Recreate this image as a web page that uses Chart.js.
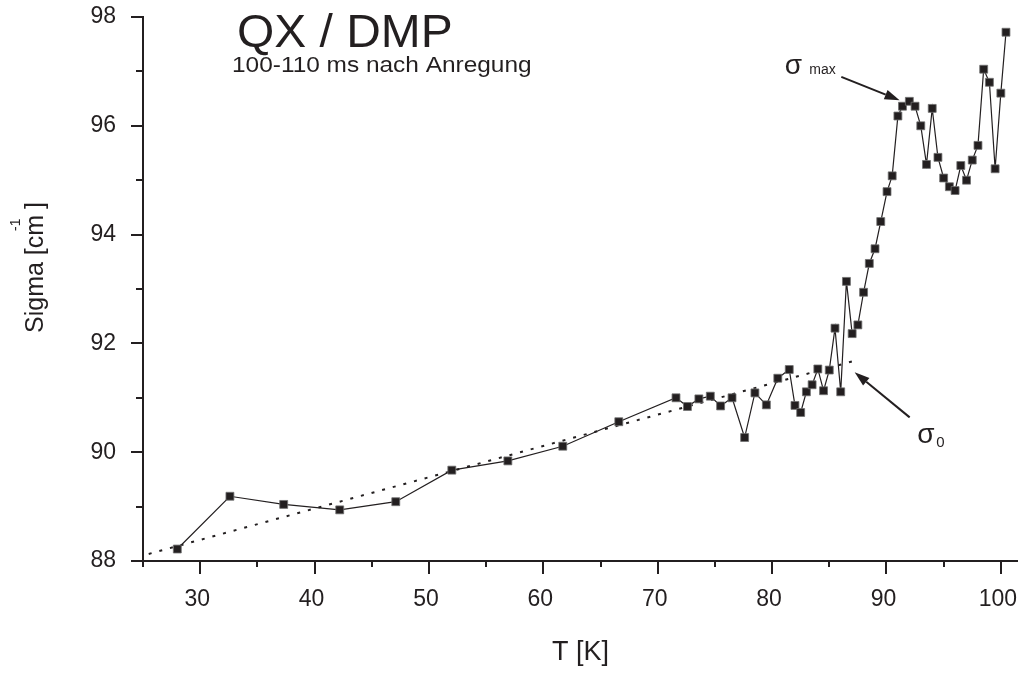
<!DOCTYPE html>
<html>
<head>
<meta charset="utf-8">
<script src="https://cdn.jsdelivr.net/npm/chart.js@4.4.1/dist/chart.umd.min.js"></script>
<style>
html,body{margin:0;padding:0;background:#ffffff;}
#wrap{width:1018px;height:673px;}
canvas{display:block;}
</style>
</head>
<body>
<div id="wrap"><canvas id="c" width="1018" height="673"></canvas></div>
<script>
// ---- data ----
const temperatureK = [28.0, 32.6, 37.3, 42.2, 47.1, 52.0, 56.9, 61.7, 66.6,
  71.6, 72.6, 73.6, 74.6, 75.5, 76.5, 77.6, 78.5, 79.5, 80.5, 81.5,
  82.0, 82.5, 83.0, 83.5, 84.0, 84.5, 85.0, 85.5, 86.0, 86.5, 87.0, 87.5,
  88.0, 88.5, 89.0, 89.5, 90.05, 90.5, 91.0, 91.4, 92.0, 92.5, 93.0, 93.5,
  94.0, 94.5, 95.0, 95.5, 96.0, 96.5, 97.0, 97.5, 98.0, 98.5, 99.0, 99.5,
  100.0, 100.45];
const sigmaValues = [88.22, 89.19, 89.04, 88.94, 89.09, 89.67, 89.84, 90.11, 90.56,
  91.0, 90.84, 90.98, 91.03, 90.85, 91.0, 90.27, 91.09, 90.87, 91.36, 91.52,
  90.86, 90.73, 91.11, 91.24, 91.53, 91.13, 91.51, 92.28, 91.11, 93.14, 92.18, 92.34,
  92.94, 93.47, 93.74, 94.24, 94.79, 95.08, 96.18, 96.36, 96.45, 96.36, 96.0, 95.29,
  96.32, 95.42, 95.04, 94.88, 94.81, 95.27, 95.0, 95.37, 95.64, 97.04, 96.8, 95.21,
  96.6, 97.72];
const baselineT = [25.5, 87.2];
const baselineSigma = [88.13, 91.68];
const xTickValues = [25, 30, 35, 40, 45, 50, 55, 60, 65, 70, 75, 80, 85, 90, 95, 100];
const yTickValues = [88, 89, 90, 91, 92, 93, 94, 95, 96, 97, 98];

const FONT = '"Liberation Sans", Arial, Helvetica, sans-serif';
const INK = '#231f20';

const axesPlugin = {
  id: 'axesPlugin',
  afterDraw(chart) {
    const ctx = chart.ctx, xs = chart.scales.x, ys = chart.scales.y, a = chart.chartArea;
    ctx.save();
    ctx.strokeStyle = INK;
    ctx.lineWidth = 2;
    ctx.lineCap = 'butt';
    ctx.beginPath();
    ctx.moveTo(a.left, a.top - 1);
    ctx.lineTo(a.left, a.bottom);
    ctx.moveTo(a.left - 1, a.bottom);
    ctx.lineTo(a.right, a.bottom);
    ctx.stroke();
    ctx.beginPath();
    xs.ticks.forEach(t => {
      const p = Math.round(xs.getPixelForValue(t.value));
      const len = t.value % 10 === 0 ? 13 : 6;
      ctx.moveTo(p, a.bottom);
      ctx.lineTo(p, a.bottom + len);
    });
    ys.ticks.forEach(t => {
      const p = Math.round(ys.getPixelForValue(t.value));
      const len = t.value % 2 === 0 ? 12 : 7;
      ctx.moveTo(a.left - len, p);
      ctx.lineTo(a.left, p);
    });
    ctx.stroke();

    // y axis title (rotated) with superscript
    ctx.fillStyle = INK;
    ctx.translate(43, 333);
    ctx.rotate(-Math.PI / 2);
    ctx.textBaseline = 'alphabetic';
    ctx.textAlign = 'left';
    ctx.font = '25px ' + FONT;
    const main = 'Sigma [cm';
    const w = ctx.measureText(main).width;
    ctx.fillText(main, 0, 0);
    ctx.font = '14px ' + FONT;
    ctx.fillText('-1', w - 16, -23);
    ctx.font = '25px ' + FONT;
    ctx.fillText(']', w + 6, 0);
    ctx.restore();
  }
};

function arrow(ctx, x1, y1, x2, y2) {
  const ang = Math.atan2(y2 - y1, x2 - x1);
  const hl = 15, hw = 5;
  const bx = x2 - hl * Math.cos(ang), by = y2 - hl * Math.sin(ang);
  ctx.beginPath();
  ctx.moveTo(x1, y1);
  ctx.lineTo(bx, by);
  ctx.stroke();
  ctx.beginPath();
  ctx.moveTo(x2, y2);
  ctx.lineTo(bx + hw * Math.sin(ang), by - hw * Math.cos(ang));
  ctx.lineTo(bx - hw * Math.sin(ang), by + hw * Math.cos(ang));
  ctx.closePath();
  ctx.fill();
}

function stretchedText(ctx, text, x, y, sx) {
  ctx.save();
  ctx.translate(x, y);
  ctx.scale(sx, 1);
  ctx.fillText(text, 0, 0);
  ctx.restore();
}

const notesPlugin = {
  id: 'notesPlugin',
  afterDraw(chart) {
    const ctx = chart.ctx, xs = chart.scales.x, ys = chart.scales.y;
    const X = v => xs.getPixelForValue(v), Y = v => ys.getPixelForValue(v);
    ctx.save();
    ctx.fillStyle = INK;
    ctx.strokeStyle = INK;
    ctx.textAlign = 'left';
    ctx.textBaseline = 'alphabetic';
    // titles
    ctx.font = '47px ' + FONT;
    stretchedText(ctx, 'QX / DMP', 237, 47, 1.02);
    ctx.font = '22px ' + FONT;
    stretchedText(ctx, '100-110 ms nach Anregung', 232, 72, 1.11);
    // sigma max
    ctx.font = '28px ' + FONT;
    ctx.fillText('σ', X(81.1), Y(96.95));
    ctx.font = '14px ' + FONT;
    ctx.fillText('max', X(83.25), Y(96.95));
    ctx.lineWidth = 2;
    arrow(ctx, X(86.05), Y(96.9), X(91.15), Y(96.47));
    // sigma 0
    arrow(ctx, X(92.03), Y(90.64), X(87.22), Y(91.47));
    ctx.font = '28px ' + FONT;
    ctx.fillText('σ', X(92.7), Y(90.17));
    ctx.font = '15px ' + FONT;
    ctx.fillText('0', X(94.35), Y(90.09));
    ctx.restore();
  }
};

new Chart(document.getElementById('c'), {
  type: 'line',
  data: {
    datasets: [
      {
        data: temperatureK.map((t, i) => ({ x: t, y: sigmaValues[i] })),
        borderColor: INK,
        borderWidth: 1.2,
        tension: 0,
        pointStyle: 'rect',
        pointRadius: 5.6,
        pointBackgroundColor: INK,
        pointBorderColor: '#707070',
        pointBorderWidth: 0.8
      },
      {
        data: baselineT.map((t, i) => ({ x: t, y: baselineSigma[i] })),
        borderColor: INK,
        borderWidth: 2,
        borderDash: [3, 8],
        pointRadius: 0,
        tension: 0
      }
    ]
  },
  options: {
    responsive: false,
    animation: false,
    devicePixelRatio: 1,
    layout: { autoPadding: false, padding: { top: 17, right: 0, bottom: 0, left: 0 } },
    plugins: { legend: { display: false }, tooltip: { enabled: false }, title: { display: false } },
    scales: {
      x: {
        type: 'linear',
        min: 25,
        max: 101.5,
        grid: { display: false, drawTicks: false },
        border: { display: false },
        afterBuildTicks: s => { s.ticks = xTickValues.map(v => ({ value: v })); },
        afterFit: s => { s.height = 112; s.paddingLeft = 0; s.paddingRight = 0; },
        ticks: {
          autoSkip: false, maxRotation: 0, padding: 25, color: INK, labelOffset: -3,
          font: { family: FONT, size: 23 },
          callback: v => (v % 10 === 0 ? String(v) : '')
        },
        title: {
          display: true, text: 'T [K]', color: INK,
          font: { family: FONT, size: 27 },
          padding: { top: 0, bottom: 4 }
        }
      },
      y: {
        type: 'linear',
        min: 88,
        max: 98,
        grid: { display: false, drawTicks: false },
        border: { display: false },
        afterBuildTicks: s => { s.ticks = yTickValues.map(v => ({ value: v })); },
        afterFit: s => { s.width = 143; s.paddingTop = 0; s.paddingBottom = 0; },
        ticks: {
          autoSkip: false, padding: 27, color: INK,
          font: { family: FONT, size: 23 },
          callback: v => (v % 2 === 0 ? String(v) : '')
        }
      }
    }
  },
  plugins: [axesPlugin, notesPlugin]
});
</script>
</body>
</html>
